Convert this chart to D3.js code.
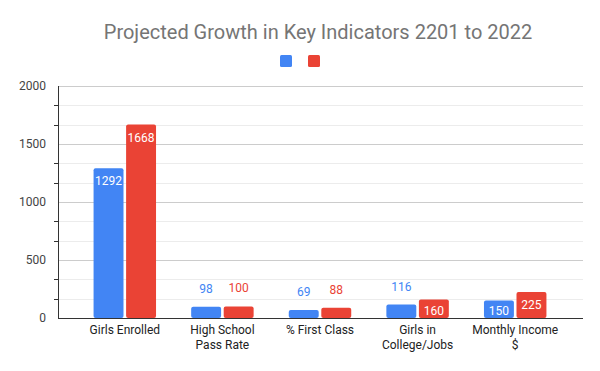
<!DOCTYPE html>
<html>
<head>
<meta charset="UTF-8">
<script src="https://d3js.org/d3.v7.min.js"></script>
<style>
  body { margin: 0; background: #fff; }
  svg { font-family: Roboto, Arial, sans-serif; }
</style>
</head>
<body>
<svg id="chart" width="600" height="371"></svg>
<script>
  // chart data
  const categories = [["Girls Enrolled"], ["High School", "Pass Rate"], ["% First Class"], ["Girls in", "College/Jobs"], ["Monthly Income", "$"]];
  const series2021 = [1292, 98, 69, 116, 150];
  const series2022 = [1668, 100, 88, 160, 225];
  const yTicks = [0, 500, 1000, 1500, 2000];
  const colors = ["#4285f4", "#ea4335"];

  const svg = d3.select("#chart");
  const W = 600, H = 371;
  const plotL = 58, plotR = 583, plotT = 86, plotB = 318;

  svg.append("rect").attr("width", W).attr("height", H).attr("fill", "#fff");

  const y = d3.scaleLinear().domain([0, 2000]).range([plotB, plotT]);
  const x0 = d3.scaleBand().domain(d3.range(categories.length)).range([76, 564]).paddingInner(0.36).paddingOuter(0.18);
  const x1 = d3.scaleBand().domain([0, 1]).range([0, x0.bandwidth()]).paddingInner(0.08);

  // minor gridlines + ticks on the axis
  const minor = d3.range(0, 2001, 500 / 3).filter(v => !yTicks.some(t => Math.abs(t - v) < 1));
  svg.selectAll(".minor").data(minor).join("line")
    .attr("x1", plotL).attr("x2", plotR)
    .attr("y1", d => Math.round(y(d)) + 0.5).attr("y2", d => Math.round(y(d)) + 0.5)
    .attr("stroke", "#ececec");
  svg.selectAll(".major").data(yTicks.slice(1)).join("line")
    .attr("x1", plotL).attr("x2", plotR)
    .attr("y1", d => Math.round(y(d)) + 0.5).attr("y2", d => Math.round(y(d)) + 0.5)
    .attr("stroke", "#cccccc");
  svg.selectAll(".tickmark").data(minor).join("line")
    .attr("x1", plotL - 4).attr("x2", plotL + 1)
    .attr("y1", d => Math.round(y(d)) + 0.5).attr("y2", d => Math.round(y(d)) + 0.5)
    .attr("stroke", "#333");

  // y labels
  svg.selectAll(".ylab").data(yTicks).join("text")
    .attr("x", 46).attr("y", d => y(d) + 4)
    .attr("text-anchor", "end").attr("font-size", 12).attr("fill", "#444")
    .text(d => d);

  // bars
  const groups = svg.selectAll(".grp").data(categories.map((c, i) => [series2021[i], series2022[i]]))
    .join("g").attr("transform", (d, i) => `translate(${x0(i)},0)`);

  groups.selectAll("rect").data(d => d).join("rect")
    .attr("x", (d, j) => x1(j)).attr("width", x1.bandwidth())
    .attr("y", d => y(d)).attr("height", d => plotB - y(d))
    .attr("rx", 2)
    .attr("fill", (d, j) => colors[j]);

  groups.selectAll("text").data(d => d).join("text")
    .attr("x", (d, j) => x1(j) + x1.bandwidth() / 2)
    .attr("y", d => (plotB - y(d) > 15) ? Math.min(y(d) + 17, plotB - 3) : y(d) - 14)
    .attr("text-anchor", "middle").attr("font-size", 12)
    .attr("fill", (d, j) => (plotB - y(d) > 15) ? "#fff" : colors[j])
    .text(d => d);

  // axes lines
  svg.append("line").attr("x1", plotL + 0.5).attr("x2", plotL + 0.5).attr("y1", plotT).attr("y2", plotB + 1)
    .attr("stroke", "#333");
  svg.append("line").attr("x1", plotL).attr("x2", plotR).attr("y1", plotB + 0.5).attr("y2", plotB + 0.5)
    .attr("stroke", "#333");

  // x labels
  svg.selectAll(".xlab").data(categories).join("text")
    .attr("x", (d, i) => x0(i) + x0.bandwidth() / 2)
    .attr("y", 334)
    .attr("text-anchor", "middle").attr("font-size", 12).attr("fill", "#222")
    .selectAll("tspan").data(d => d).join("tspan")
    .attr("x", function () { return this.parentNode.getAttribute("x"); })
    .attr("dy", (d, k) => k === 0 ? 0 : 15)
    .text(d => d);

  // title
  svg.append("text").attr("x", 318).attr("y", 39)
    .attr("text-anchor", "middle").attr("font-size", 20).attr("fill", "#757575")
    .text("Projected Growth in Key Indicators 2201 to 2022");

  // legend (no series names)
  svg.selectAll(".leg").data(colors).join("rect")
    .attr("x", (d, i) => 280 + i * 28).attr("y", 55)
    .attr("width", 12).attr("height", 12).attr("rx", 1.5)
    .attr("fill", d => d);
</script>
</body>
</html>
